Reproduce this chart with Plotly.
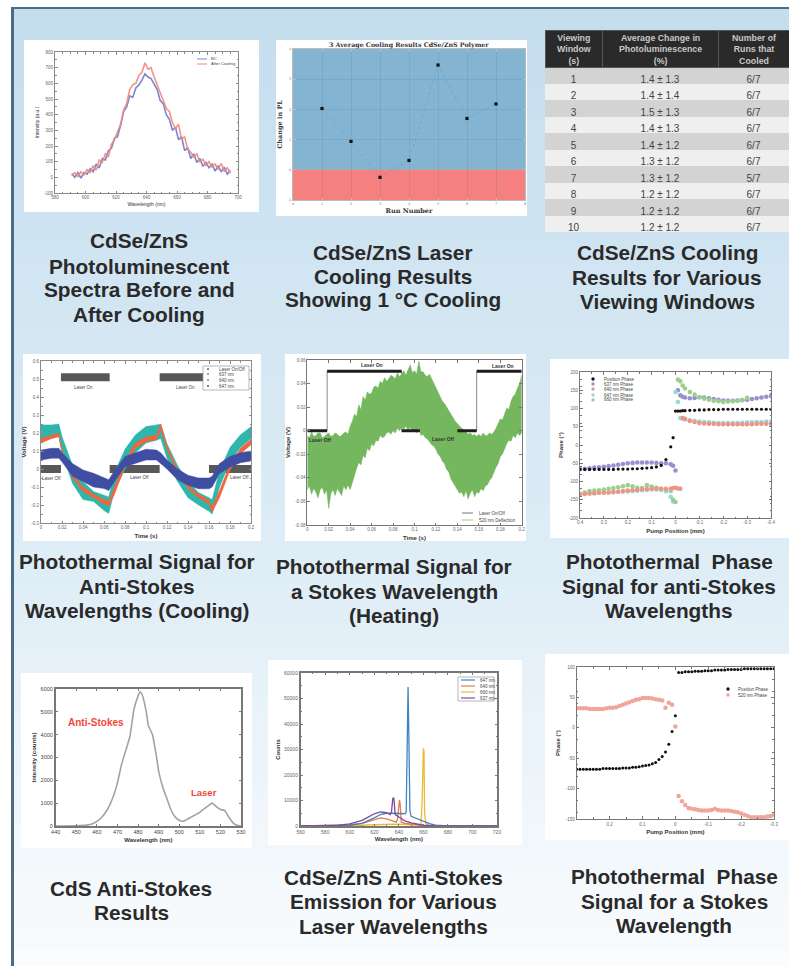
import plotly.graph_objects as go

W, H = 789, 966

# ---------- Panel 1: photoluminescent spectra ----------
pl_wavelength = list(range(591, 697, 2))
pl_before = [25,0,30,-5,30,20,55,35,85,60,120,110,170,185,250,260,330,420,450,520,510,570,590,620,660,640,630,590,560,490,470,400,370,300,320,240,260,170,190,120,150,95,120,70,95,60,85,40,75,35,65,20,45]
pl_after = [10,30,5,35,15,50,30,75,45,110,95,150,130,210,240,290,340,430,470,560,590,600,650,670,730,690,700,640,590,530,490,440,420,350,310,340,240,260,180,160,130,150,100,115,75,100,65,85,50,90,40,60,25]

# ---------- Panel 2: cooling results ----------
run_number = [1, 2, 3, 4, 5, 6, 7]
change_pl = [2.03, 0.94, -0.25, 0.31, 3.47, 1.70, 2.18]

# ---------- Panel 3: table ----------
table_header = ["Viewing<br>Window<br>(s)", "Average Change in<br>Photoluminescence<br>(%)", "Number of<br>Runs that<br>Cooled"]
table_window = ["1", "2", "3", "4", "5", "6", "7", "8", "9", "10"]
table_change = ["1.4 ± 1.3", "1.4 ± 1.4", "1.5 ± 1.3", "1.4 ± 1.3", "1.4 ± 1.2", "1.3 ± 1.2", "1.3 ± 1.2", "1.2 ± 1.2", "1.2 ± 1.2", "1.2 ± 1.2"]
table_runs = ["6/7", "6/7", "6/7", "6/7", "6/7", "6/7", "5/7", "6/7", "6/7", "6/7"]

# ---------- Panel 4: anti-Stokes photothermal signal ----------
laser4_t = [0, 0.019, None, 0.0654, 0.113, None, 0.16, 0.2, None, 0.019, 0.0654, None, 0.113, 0.16]
laser4_v = [0, 0, None, 0, 0, None, 0, 0, None, 0.51, 0.51, None, 0.51, 0.51]
sig_t = [0, 0.01, 0.017, 0.02, 0.03, 0.04, 0.05, 0.06, 0.0645, 0.07, 0.08, 0.09, 0.10, 0.11, 0.114, 0.12, 0.13, 0.14, 0.15, 0.16, 0.163, 0.17, 0.18, 0.19, 0.20]
teal_up = [0.245,0.245,0.25,0.18,0.02,-0.07,-0.125,-0.145,-0.155,-0.02,0.11,0.19,0.236,0.245,0.25,0.14,0.02,-0.07,-0.13,-0.16,-0.17,-0.01,0.12,0.19,0.235]
teal_lo = [0.15,0.17,0.18,0.09,-0.08,-0.17,-0.18,-0.23,-0.247,-0.12,0.0,0.09,0.145,0.16,0.17,0.06,-0.07,-0.16,-0.2,-0.235,-0.25,-0.1,0.04,0.12,0.17]
orange_up = [0.17,0.19,0.2,0.11,-0.03,-0.10,-0.14,-0.17,-0.18,-0.10,0.05,0.145,0.178,0.187,0.25,0.13,0,-0.09,-0.14,-0.175,-0.21,-0.12,0.025,0.115,0.165]
orange_lo = [0.145,0.17,0.18,0.09,-0.05,-0.125,-0.16,-0.195,-0.205,-0.14,0.015,0.115,0.152,0.163,0.22,0.11,-0.02,-0.11,-0.16,-0.195,-0.24,-0.16,-0.005,0.085,0.135]
blue_up = [0.105,0.115,0.115,0.09,0.03,-0.005,-0.024,-0.05,-0.06,-0.01,0.07,0.09,0.11,0.105,0.09,0.05,0,-0.035,-0.05,-0.05,-0.04,0.03,0.07,0.09,0.10]
blue_lo = [0.05,0.06,0.06,0.04,-0.04,-0.07,-0.10,-0.108,-0.12,-0.07,0.013,0.03,0.05,0.05,0.03,0,-0.06,-0.09,-0.11,-0.11,-0.10,-0.025,0.01,0.035,0.045]

# ---------- Panel 5: Stokes photothermal signal ----------
green_t = [i * 0.002 for i in range(101)]
green_up = [-0.004,-0.006,-0.001,-0.005,-0.004,-0.002,-0.002,-0.006,-0.005,-0.003,-0.002,-0.005,-0.004,-0.002,-0.003,-0.005,-0.004,-0.002,-0.001,-0.003,
            0.004,0.008,0.014,0.012,0.022,0.018,0.029,0.026,0.033,0.031,0.032,0.037,0.038,0.036,0.042,0.040,0.045,0.042,0.044,0.047,
            0.046,0.044,0.049,0.046,0.048,0.051,0.047,0.052,0.056,0.049,0.051,0.048,0.059,0.050,0.050,0.047,0.046,0.048,0.044,0.040,
            0.036,0.033,0.029,0.025,0.023,0.020,0.017,0.013,0.011,0.008,0.006,0.004,0.002,0.001,-0.001,-0.003,-0.002,-0.004,-0.003,-0.005,
            -0.003,-0.005,-0.002,-0.004,-0.004,-0.002,-0.003,-0.001,0.002,0.006,0.010,0.009,0.015,0.019,0.018,0.025,0.029,0.031,0.036,0.040,
            0.047]
green_lo = [-0.050,-0.047,-0.054,-0.049,-0.052,-0.057,-0.050,-0.048,-0.054,-0.050,-0.066,-0.053,-0.050,-0.055,-0.049,-0.052,-0.055,-0.047,-0.050,-0.046,
            -0.050,-0.043,-0.038,-0.032,-0.027,-0.029,-0.021,-0.023,-0.015,-0.017,-0.011,-0.013,-0.008,-0.009,-0.004,-0.006,-0.005,-0.002,-0.001,-0.003,
            0.000,-0.002,0.002,0.000,0.003,0.001,0.004,0.000,0.003,-0.001,0.001,-0.002,0.002,-0.004,-0.003,-0.006,-0.007,-0.009,-0.012,-0.013,
            -0.016,-0.020,-0.022,-0.026,-0.028,-0.033,-0.035,-0.041,-0.044,-0.048,-0.050,-0.053,-0.052,-0.056,-0.051,-0.058,-0.053,-0.050,-0.056,-0.052,
            -0.053,-0.049,-0.051,-0.047,-0.046,-0.042,-0.040,-0.036,-0.031,-0.028,-0.022,-0.020,-0.016,-0.011,-0.008,-0.009,-0.004,-0.006,-0.002,-0.004,
            -0.002]
laser5_thin_t = [0, 0.0185, 0.0185, 0.088, 0.088, 0.158, 0.158, 0.2]
laser5_thin_v = [0, 0, 0.0505, 0.0505, 0, 0, 0.0505, 0.0505]
laser5_t = [0, 0.0185, None, 0.0185, 0.088, None, 0.088, 0.105, None, 0.14, 0.158, None, 0.158, 0.2]
laser5_v = [0, 0, None, 0.0505, 0.0505, None, 0, 0, None, 0, 0, None, 0.0505, 0.0505]

# ---------- Panel 6: anti-Stokes phase ----------
phase_x = [0.40,0.38,0.36,0.34,0.32,0.30,0.28,0.26,0.24,0.22,0.20,0.18,0.16,0.14,0.12,0.10,0.08,0.06,0.04,0.02,0.01,0,-0.01,-0.02,-0.03,-0.04,-0.06,-0.08,-0.10,-0.12,-0.14,-0.16,-0.18,-0.20,-0.22,-0.24,-0.26,-0.28,-0.30,-0.32,-0.34,-0.36,-0.38,-0.40]
phase_pos = [-67,-67,-67,-67,-67,-67,-67,-67,-66,-66,-66,-65,-65,-64,-63,-62,-60,-56,-40,-5,20,93,93,93,94,94,95,95,96,96,97,97,97,98,98,98,98,98,98,98,98,98,98,98]
phase_637 = [-66,-65,-64,-62,-61,-60,-58,-56,-54,-52,-50,-49,-48,-48,-48,-48,-49,-50,-50,-53,-57,-70,150,136,132,130,128,129,131,130,128,126,124,122,122,121,122,123,124,126,128,130,132,134]
phase_640 = [-135,-134,-133,-132,-131,-131,-130,-129,-128,-126,-125,-124,-123,-122,-121,-120,-120,-120,-120,-120,-118,-117,-119,-120,74,72,66,63,60,59,58,58,57,57,57,57,57,57,57,57,58,58,58,58]
phase_647 = [-135,-134,-133,-132,-131,-130,-130,-129,-128,-128,-127,-126,-125,-124,-123,-122,-122,-123,-127,-142,-155,145,118,74,72,70,68,66,64,63,62,61,60,60,60,60,60,61,62,62,63,63,64,64]
phase_660 = [-135,-130,-126,-125,-124,-122,-120,-118,-116,-113,-110,-113,-117,-118,-110,-114,-117,-120,-122,-126,-150,-156,179,175,163,155,145,138,131,127,124,121,120,118,119,120,121,123,129,None,None,None,None,None]

# ---------- Panel 7: CdS anti-Stokes ----------
cds_wl = [440,450,455,458,460,462,465,468,470,472,474,476,477,478,480,481,482,484,485,487,489,490,492,494,496,498,500,502,504,506,508,510,512,514,516,518,520,522,524,526,528,530]
cds_counts = [0,10,40,100,200,350,700,1300,1900,2700,3300,3900,4500,5100,5700,5880,5750,5000,4400,4000,3000,2400,1700,1200,700,400,250,210,300,400,500,600,750,880,1000,850,720,680,400,150,30,0]

# ---------- Panel 8: CdSe/ZnS anti-Stokes emission ----------
e647_wl = [560,590,600,610,615,620,625,630,635,640,645,646,647,647.5,648,649,650,655,660,665,670,680,720]
e647_ct = [0,100,400,1000,2000,3200,4500,5000,5000,4800,4800,5500,40000,54500,40000,6000,3800,2800,1700,900,300,50,0]
e640_wl = [560,590,600,610,620,625,630,635,638,639,640,640.5,641,642,645,650,660,670,720]
e640_ct = [0,50,300,1000,2500,3200,2800,2000,1500,3000,9000,10200,9000,1500,1000,700,200,50,0]
e660_wl = [560,600,620,630,640,650,655,658,659,659.5,660,660.5,661,662,665,720]
e660_ct = [0,100,500,700,700,500,400,400,10000,29000,30500,29000,5000,1000,100,0]
e637_wl = [560,590,600,610,615,620,625,630,633,634,635,635.6,636,637,640,645,650,660,670,720]
e637_ct = [0,200,800,2200,3500,4800,5500,5200,4500,5500,10500,11200,10500,4500,3500,2000,1200,300,50,0]

# ---------- Panel 9: Stokes phase ----------
stokes_x = [0.30,0.29,0.28,0.27,0.26,0.25,0.24,0.23,0.22,0.21,0.20,0.19,0.18,0.17,0.16,0.15,0.14,0.13,0.12,0.11,0.10,0.09,0.08,0.07,0.06,0.05,0.04,0.03,0.02,0.01,0,
            -0.01,-0.02,-0.03,-0.04,-0.05,-0.06,-0.07,-0.08,-0.09,-0.10,-0.11,-0.12,-0.13,-0.14,-0.15,-0.16,-0.17,-0.18,-0.19,-0.20,-0.21,-0.22,-0.23,-0.24,-0.25,-0.26,-0.27,-0.28,-0.29,-0.30]
stokes_pos = [-68,-68,-68,-68,-68,-68,-68,-68,-67,-67,-67,-67,-67,-67,-66,-66,-66,-65,-65,-64,-63,-62,-61,-59,-57,-52,-47,-40,-27,-6,20,
              91,91,92,92,92,93,93,93,94,94,94,95,95,95,95,96,96,96,96,96,97,97,97,97,97,97,97,97,97,97]
stokes_520 = [32,32,32,32,31,31,31,31,31,32,33,33,34,36,38,40,42,44,46,47,49,49,49,48,47,46,45,33,41,38,2,
              -112,-121,-127,-132,-133,-134,-135,-136,-136,-136,-135,-133,-135,-136,-136,-136,-137,-138,-139,-141,-143,-145,-147,-147,-147,-147,-147,-146,-145,-143]

# ---------- Text ----------
captions = [
    (139, 241, "CdSe/ZnS"), (139, 266, "Photoluminescent"), (139, 290, "Spectra Before and"), (139, 314, "After Cooling"),
    (393, 252, "CdSe/ZnS Laser"), (393, 276, "Cooling Results"), (393, 300, "Showing 1 °C Cooling"),
    (667, 253, "CdSe/ZnS Cooling"), (667, 277, "Results for Various"), (667, 301, "Viewing Windows"),
    (137, 561, "Photothermal Signal for"), (137, 586, "Anti-Stokes"), (137, 610, "Wavelengths (Cooling)"),
    (394, 566, "Photothermal Signal for"), (394, 591, "a Stokes Wavelength"), (394, 615, "(Heating)"),
    (669, 561, "Photothermal  Phase"), (669, 586, "Signal for anti-Stokes"), (669, 610, "Wavelengths"),
    (131, 888, "CdS Anti-Stokes"), (131, 912, "Results"),
    (393, 877, "CdSe/ZnS Anti-Stokes"), (393, 901, "Emission for Various"), (393, 926, "Laser Wavelengths"),
    (674, 876, "Photothermal  Phase"), (674, 901, "Signal for a Stokes"), (674, 925, "Wavelength"),
]

# ---------- Colours ----------
TEAL, ORANGE, BLUE = "#2EB6AC", "#F0663C", "#3F4EA2"
PURPLE, SALMON, CYAN, LGREEN = "#9A90CF", "#EE9587", "#95DAE0", "#9BD08C"
SANS = "Liberation Sans"


def px(x):
    return x / W


def py(y):
    return 1 - y / H


fig = go.Figure()
shapes, annos = [], []

# background gradient, frame
grad_top, grad_mid, grad_bot = (197, 222, 238), (224, 238, 247), (250, 252, 254)
N = 60
for i in range(N):
    f = i / (N - 1)
    if f < 0.6:
        g = f / 0.6
        c = [grad_top[k] + (grad_mid[k] - grad_top[k]) * g for k in range(3)]
    else:
        g = (f - 0.6) / 0.4
        c = [grad_mid[k] + (grad_bot[k] - grad_mid[k]) * g for k in range(3)]
    y0 = 7 + (H - 7) * i / N
    y1 = 7 + (H - 7) * (i + 1) / N + 1
    shapes.append(dict(type="rect", xref="paper", yref="paper", x0=px(12), x1=1, y0=py(y1), y1=py(y0),
                       fillcolor="rgb(%d,%d,%d)" % tuple(c), line_width=0, layer="below"))
for rect in [(11, 7, 14, H), (11, 7, W, 9)]:
    shapes.append(dict(type="rect", xref="paper", yref="paper", x0=px(rect[0]), x1=px(rect[2]), y0=py(rect[3]), y1=py(rect[1]),
                       fillcolor="#4C6B86", line_width=0, layer="below"))

# white cards
for c in [(24, 40, 259, 212), (276, 40, 527, 216), (23, 354, 261, 541), (285, 354, 526, 541), (550, 359, W, 538),
          (21, 673, 252, 848), (268, 660, 522, 845), (545, 654, W, 840)]:
    shapes.append(dict(type="rect", xref="paper", yref="paper", x0=px(c[0]), x1=px(c[2]), y0=py(c[3]), y1=py(c[1]),
                       fillcolor="white", line_width=0, layer="below"))


def set_axes(n, box, xr, yr, xt, yt, xtitle, ytitle, xlab=None, ylab=None, line="#8a8a8a", lw=1, size=5,
             tcolor="#666", title_size=6, family=SANS, minor=True, xsoff=6, ysoff=6, grid=False):
    x0, y0, x1, y1 = box
    ids = "" if n == 1 else str(n)
    common = dict(showline=True, mirror="ticks", linecolor=line, linewidth=lw, ticks="inside", ticklen=2.5, tickwidth=0.7,
                  tickcolor=line, tickfont=dict(size=size, color=tcolor, family=family), zeroline=False,
                  showgrid=grid, gridcolor="rgba(50,80,100,0.12)", gridwidth=0.7, layer="above traces")
    if minor:
        common["minor"] = dict(ticks="inside", ticklen=1.5, tickwidth=0.6, tickcolor=line, nticks=5)
    fig.layout["xaxis" + ids] = dict(common, domain=[px(x0), px(x1)], range=xr, tickvals=xt, ticktext=xlab or [str(v) for v in xt],
                                     anchor="y" + ids, automargin=False,
                                     title=dict(text=xtitle, font=dict(size=title_size, color="#333", family=family), standoff=xsoff))
    fig.layout["yaxis" + ids] = dict(common, domain=[py(y1), py(y0)], range=yr, tickvals=yt, ticktext=ylab or [str(v) for v in yt],
                                     anchor="x" + ids, automargin=False,
                                     title=dict(text=ytitle, font=dict(size=title_size, color="#333", family=family), standoff=ysoff))


def ax(n):
    ids = "" if n == 1 else str(n)
    return dict(xaxis="x" + ids, yaxis="y" + ids, showlegend=False, hoverinfo="skip")


def band(n, xs, up, lo, color, name):
    fig.add_trace(go.Scatter(x=list(xs) + list(xs)[::-1], y=list(up) + list(lo)[::-1], mode="lines", fill="toself",
                             fillcolor=color, line=dict(color=color, width=0.5), name=name, **ax(n)))


def text(xp, yp, s, size=5, color="#444", bold=False, anchor="center", family=SANS, xref="paper", yref="paper"):
    annos.append(dict(x=px(xp) if xref == "paper" else xp, y=py(yp) if yref == "paper" else yp, xref=xref, yref=yref, text="<b>%s</b>" % s if bold else s,
                      showarrow=False, xanchor=anchor, yanchor="middle", font=dict(size=size, color=color, family=family)))


def key_box(x0, y0, x1, y1):
    shapes.append(dict(type="rect", xref="paper", yref="paper", x0=px(x0), x1=px(x1), y0=py(y1), y1=py(y0),
                       fillcolor="white", line=dict(color="#999", width=0.7), layer="above"))


def key_line(x0, x1, y, color, width=1):
    shapes.append(dict(type="line", xref="paper", yref="paper", x0=px(x0), x1=px(x1), y0=py(y), y1=py(y),
                       line=dict(color=color, width=width), layer="above"))


def key_dot(x, y, color, r=1.7):
    shapes.append(dict(type="circle", xref="paper", yref="paper", x0=px(x - r), x1=px(x + r), y0=py(y + r), y1=py(y - r),
                       fillcolor=color, line_width=0, layer="above"))


# ----- Panel 1 -----
set_axes(1, (55, 52, 238, 193), [580, 700], [-100, 800], [580, 600, 620, 640, 660, 680, 700],
         [-100, 0, 100, 200, 300, 400, 500, 600, 700, 800], "Wavelength (nm)", "Intensity (a.u.)", size=4.5, title_size=5, xsoff=3, ysoff=4)
fig.add_trace(go.Scatter(x=pl_wavelength, y=pl_before, mode="lines", line=dict(color="#7C86D0", width=1.6), name="Before", **ax(1)))
fig.add_trace(go.Scatter(x=pl_wavelength, y=pl_after, mode="lines", line=dict(color="#F08A7C", width=1.6), opacity=0.9, name="After Cooling", **ax(1)))
key_line(197, 207, 59, "#7C86D0")
key_line(197, 207, 64, "#F08A7C")
text(209, 59, "BC", 4.2, anchor="left")
text(209, 64, "After Cooling", 4.2, anchor="left")

# ----- Panel 2 -----
set_axes(2, (293, 49, 525, 200), [0, 8], [-1, 4], list(range(9)), list(range(-1, 5)), "<b>Run Number</b>", "<b>Change in PL</b>",
         family="DejaVu Serif", title_size=6.5, size=3.5, minor=False, line="#bbb", grid=True, xsoff=3, ysoff=4)
shapes.append(dict(type="rect", xref="x2", yref="y2", x0=0, x1=8, y0=0, y1=4, fillcolor="#83B5D2", line_width=0, layer="below"))
shapes.append(dict(type="rect", xref="x2", yref="y2", x0=0, x1=8, y0=-1, y1=0, fillcolor="#F58080", line_width=0, layer="below"))
fig.add_trace(go.Scatter(x=run_number, y=change_pl, mode="lines+markers", line=dict(color="rgba(60,100,125,0.3)", width=0.7, dash="dot"),
                         marker=dict(color="#111", size=3.2, symbol="square"), name="Change in PL", **ax(2)))
text(409, 45, "3 Average Cooling Results CdSe/ZnS Polymer", 6.3, "#333", True, family="DejaVu Serif")

# ----- Panel 3: table -----
rows = ["#D3D3D3", "#EFEFEF"] * 5
fig.add_trace(go.Table(
    domain=dict(x=[px(545), 1], y=[py(232), py(30)]),
    columnwidth=[57, 116, 71],
    header=dict(values=["", "", ""], fill_color="#2A2A2A", height=37, align="center",
                font=dict(color="#C8C8C8", size=9, family=SANS), line=dict(color="#555", width=1)),
    cells=dict(values=[table_window, table_change, table_runs], fill_color=[rows, rows, rows], height=16.5, align="center",
               font=dict(color="#444", size=10, family=SANS), line=dict(color="rgba(0,0,0,0)", width=0)),
))
for hx, h in zip([573.5, 660, 754], table_header):
    text(hx, 49, h, 8.8, "#C8C8C8", True)

# ----- Panel 4 -----
set_axes(3, (41, 361, 251, 523), [0, 0.2], [-0.3, 0.6], [0, 0.02, 0.04, 0.06, 0.08, 0.1, 0.12, 0.14, 0.16, 0.18, 0.2],
         [-0.3, -0.2, -0.1, 0, 0.1, 0.2, 0.3, 0.4, 0.5, 0.6], "<b>Time (s)</b>", "<b>Voltage (V)</b>", size=4.5, xsoff=4, ysoff=4)
fig.add_trace(go.Scatter(x=laser4_t, y=laser4_v, mode="lines", line=dict(color="#585858", width=8), name="Laser On/Off", **ax(3)))
band(3, sig_t, teal_up, teal_lo, TEAL, "640 nm")
band(3, sig_t, orange_up, orange_lo, ORANGE, "637 nm")
band(3, sig_t, blue_up, blue_lo, BLUE, "647 nm")
for t, v, s in [(0.04, 0.45, "Laser On"), (0.1375, 0.45, "Laser On"), (0.01, -0.055, "Laser Off"), (0.094, -0.05, "Laser Off"), (0.189, -0.045, "Laser Off")]:
    text(t, v, s, 4.5, "#444", xref="x3", yref="y3")
key_box(203, 366, 249, 390)
for y, c, s in [(369, "#666", "Laser On/Off"), (374, ORANGE, "637 nm"), (380, TEAL, "640 nm"), (386, BLUE, "647 nm")]:
    key_dot(208, y, c, 1)
    text(217, y, s, 4.5, anchor="left")

# ----- Panel 5 -----
set_axes(4, (307.3, 360, 521.7, 525), [0, 0.2], [-0.08, 0.06], [0, 0.02, 0.04, 0.06, 0.08, 0.1, 0.12, 0.14, 0.16, 0.18, 0.2],
         [-0.08, -0.06, -0.04, -0.02, 0, 0.02, 0.04, 0.06], "<b>Time (s)</b>", "<b>Voltage (V)</b>", size=4.5, xsoff=4, ysoff=4,
         xlab=["0", "0.02", "0.04", "0.06", "0.08", "0.1", "0.12", "0.14", "0.16", "0.18", "0.2"], minor=False, line="#777")
fig.add_trace(go.Scatter(x=laser5_thin_t, y=laser5_thin_v, mode="lines", line=dict(color="#888", width=1), name="Laser On/Off", **ax(4)))
band(4, green_t, green_up, green_lo, "#74B75F", "520 nm Deflection")
fig.add_trace(go.Scatter(x=laser5_t, y=laser5_v, mode="lines", line=dict(color="#1e1e1e", width=3), name="Laser On/Off thick", **ax(4)))
for t, v, s in [(0.06, 0.056, "Laser On"), (0.183, 0.055, "Laser On"), (0.012, -0.0075, "Laser Off"), (0.127, -0.007, "Laser Off")]:
    text(t, v, s, 5, "#333", True, xref="x4", yref="y4")
key_line(462, 473, 513, "#777")
key_line(462, 473, 520, "#9BD08C")
text(477, 513, "Laser On/Off", 4.5, anchor="left")
text(477, 520, "520 nm Deflection", 4.5, anchor="left")

# ----- Panel 6 -----
set_axes(5, (580, 372, 771, 518), [0.4, -0.4], [-200, 200], [0.4, 0.3, 0.2, 0.1, 0, -0.1, -0.2, -0.3, -0.4],
         [-200, -150, -100, -50, 0, 50, 100, 150, 200], "<b>Pump Position (mm)</b>", "<b>Phase (°)</b>", size=4.5, xsoff=4, ysoff=4, line="#777")
for ys, c, n in [(phase_637, PURPLE, "637 nm Phase"), (phase_647, CYAN, "647 nm Phase"), (phase_660, LGREEN, "660 nm Phase"),
                 (phase_640, SALMON, "640 nm Phase"), (phase_pos, "#111", "Position Phase")]:
    fig.add_trace(go.Scatter(x=phase_x, y=ys, mode="markers", marker=dict(color=c, size=3.2 if c == "#111" else 4.6), name=n, **ax(5)))
for y, c, s in [(379, "#111", "Position Phase"), (384, PURPLE, "637 nm Phase"), (389, SALMON, "640 nm Phase"), (395, CYAN, "647 nm Phase"), (400, LGREEN, "660 nm Phase")]:
    key_dot(593, y, c)
    text(602, y, s, 4.5, anchor="left")

# ----- Panel 7 -----
set_axes(6, (55.7, 689, 241, 826), [440, 530], [0, 6000], list(range(440, 531, 10)), list(range(0, 6001, 1000)),
         "<b>Wavelength (nm)</b>", "<b>Intensity (counts)</b>", line="#777", lw=1.5, size=5.5, tcolor="#444", minor=False, xsoff=3, ysoff=3)
fig.add_trace(go.Scatter(x=cds_wl, y=cds_counts, mode="lines", line=dict(color="#A2A2A2", width=1.6, shape="spline", smoothing=0.5), name="CdS", **ax(6)))
text(96, 722, "Anti-Stokes", 10, "#F4473B", True)
text(204, 792, "Laser", 9.5, "#F4473B", True)

# ----- Panel 8 -----
set_axes(7, (300.7, 673, 497, 826), [560, 720], [0, 60000], list(range(560, 721, 20)), list(range(0, 60001, 10000)),
         "<b>Wavelength (nm)</b>", "<b>Counts</b>", line="#777", lw=1.5, size=5, xsoff=3, ysoff=3)
for wl, ct, c, n in [(e660_wl, e660_ct, "#EDB935", "660 nm"), (e640_wl, e640_ct, "#E07E45", "640 nm"),
                     (e647_wl, e647_ct, "#3F83C2", "647 nm"), (e637_wl, e637_ct, "#84479C", "637 nm")]:
    fig.add_trace(go.Scatter(x=wl, y=ct, mode="lines", line=dict(color=c, width=1.3), name=n, **ax(7)))
key_box(458, 677, 494, 701)
for y, c, s in [(680, "#3F83C2", "647 nm"), (686, "#E07E45", "640 nm"), (692, "#EDB935", "660 nm"), (698, "#84479C", "637 nm")]:
    key_line(461, 475, y, c, 1.2)
    text(478, y, s, 4.5, anchor="left")

# ----- Panel 9 -----
set_axes(8, (576.7, 667, 774, 819), [0.3, -0.3], [-150, 100], [0.2, 0.1, 0, -0.1, -0.2, -0.3], [-150, -100, -50, 0, 50, 100],
         "<b>Pump Position (mm)</b>", "<b>Phase (°)</b>", size=4.5, line="#777", lw=1.2, xsoff=4, ysoff=4)
fig.add_trace(go.Scatter(x=stokes_x, y=stokes_520, mode="markers", marker=dict(color="#F0A59A", size=4.5), name="520 nm Phase", **ax(8)))
fig.add_trace(go.Scatter(x=stokes_x, y=stokes_pos, mode="markers", marker=dict(color="#111", size=3), name="Position Phase", **ax(8)))
key_dot(728, 689, "#111")
key_dot(728, 695, "#F0A59A")
text(736, 689, "Position Phase", 4.5, anchor="left")
text(736, 695, "520 nm Phase", 4.5, anchor="left")

# ----- Captions -----
for x, y, s in captions:
    text(x, y, s, 20.8, "#2A2A2A", True)

assert len(pl_wavelength) == len(pl_before) == len(pl_after)
assert len(sig_t) == len(teal_up) == len(teal_lo) == len(orange_up) == len(orange_lo) == len(blue_up) == len(blue_lo)
assert len(green_t) == len(green_up) == len(green_lo)
assert all(len(s) == len(phase_x) for s in [phase_pos, phase_637, phase_640, phase_647, phase_660])
assert len(stokes_x) == len(stokes_pos) == len(stokes_520)
assert len(cds_wl) == len(cds_counts)
assert len(e647_wl) == len(e647_ct) and len(e640_wl) == len(e640_ct) and len(e660_wl) == len(e660_ct) and len(e637_wl) == len(e637_ct)

fig.update_layout(width=W, height=H, margin=dict(l=0, r=0, t=0, b=0), paper_bgcolor="white", plot_bgcolor="rgba(0,0,0,0)",
                  shapes=shapes, annotations=annos, showlegend=False, font=dict(family=SANS))
fig.write_html("out.html", config=dict(displayModeBar=False),
               post_script="document.body.style.margin='0';document.body.style.overflow='hidden';")
